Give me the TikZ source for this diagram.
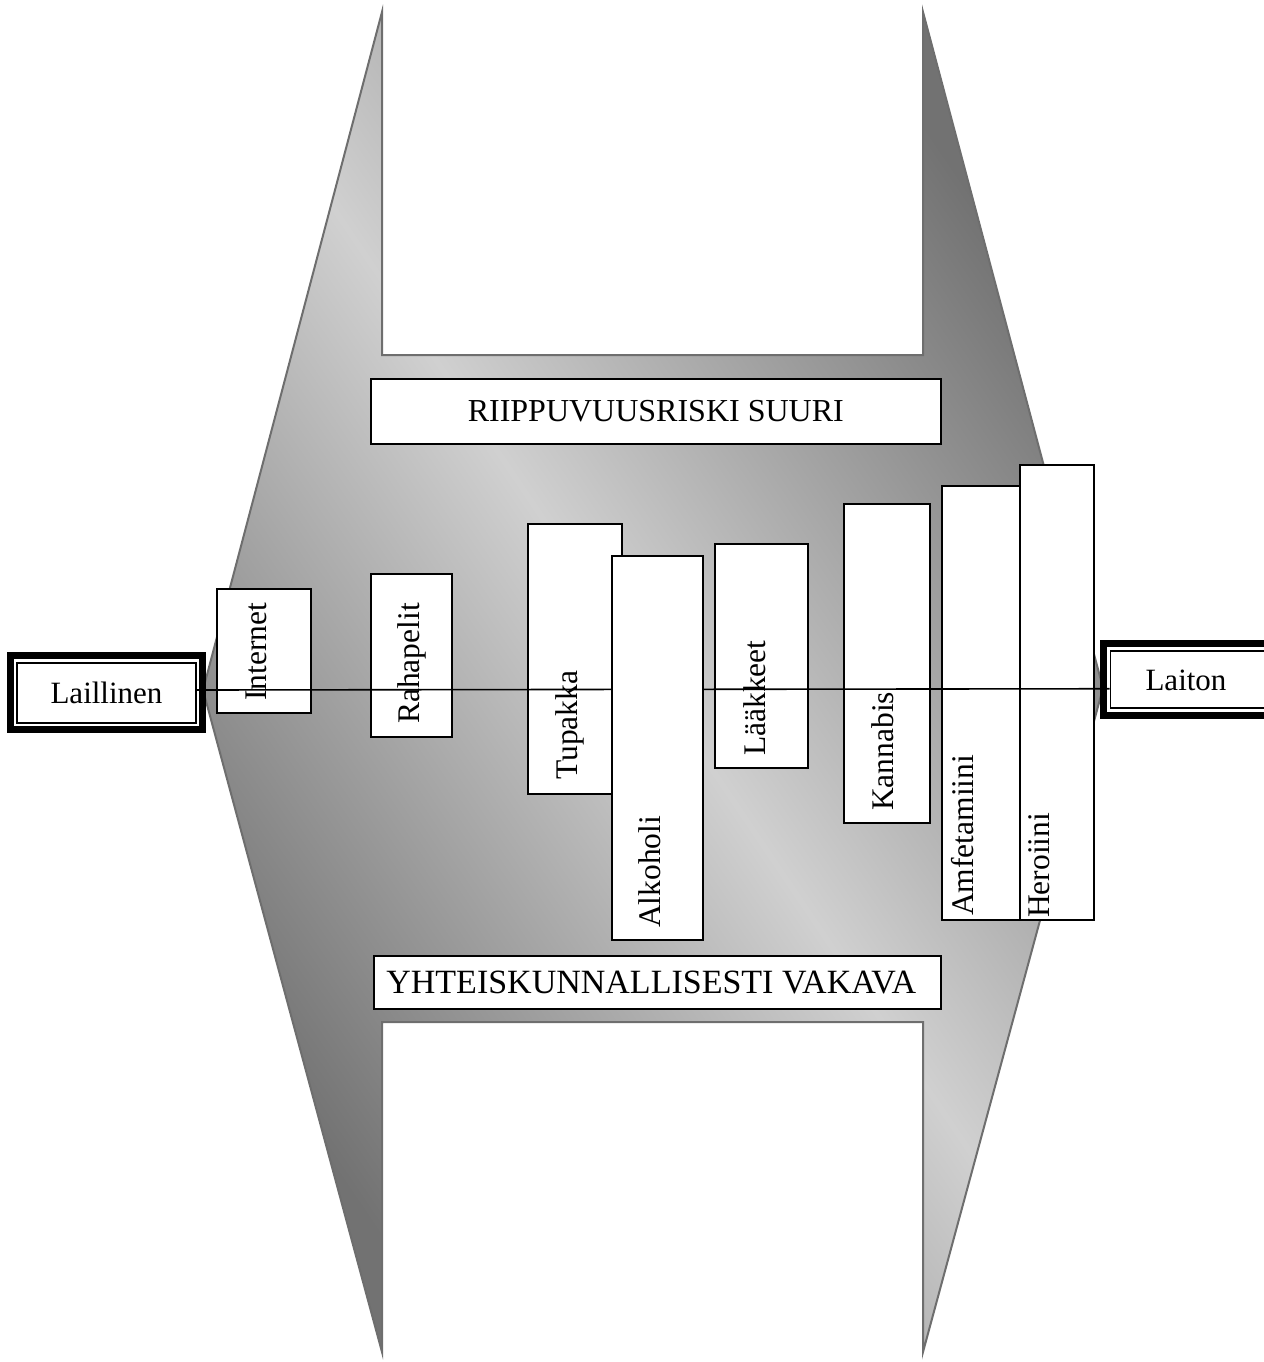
\documentclass[tikz,border=0pt]{standalone}
\usepackage{fontspec}
\setmainfont{Liberation Serif}
\definecolor{shdark}{RGB}{114,114,114}
\definecolor{shlight}{RGB}{208,208,208}
\definecolor{edgegray}{RGB}{110,110,110}
\begin{document}
\begin{tikzpicture}[x=1pt,y=-1pt,
  box/.style={draw=black, line width=1.6pt, fill=white, inner sep=0pt, anchor=north west},
  lbl/.style={rotate=90, anchor=base west, inner sep=0pt, font=\fontsize{31.5}{31.5}\selectfont},
  banner/.style={draw=black, line width=1.6pt, fill=white, inner sep=0pt, anchor=north west},
  endbox/.style={draw=black, line width=1.5pt, fill=white, inner sep=0pt, font=\fontsize{31}{31}\selectfont},
  thickframe/.style={line width=7pt},
  link/.style={draw=black, line width=1.6pt}
]
\useasboundingbox (0,0) rectangle (1263,1362);

% big shaded shape with notches
\shadedraw[draw=edgegray, line width=2pt, top color=shdark, bottom color=shdark, middle color=shlight, shading angle=-56]
  (382,12) -- (382,355) -- (923,355) -- (923,12) -- (1103,688) -- (923,1352)
  -- (923,1022) -- (382,1022) -- (382,1352) -- (203,690) -- cycle;

% end boxes
\node[endbox, minimum width=179pt, minimum height=60pt] (lail) at (106.5,693) {Laillinen};
\draw[thickframe] ([xshift=-5.5pt,yshift=6.5pt]lail.north west) rectangle ([xshift=5.5pt,yshift=-5.5pt]lail.south east);

\node[endbox, minimum width=200pt, minimum height=57pt, anchor=north west] (lait) at (1109.5,650) {};
\draw[thickframe] ([xshift=-6pt,yshift=6.5pt]lait.north west) rectangle ([xshift=6pt,yshift=-6.5pt]lait.south east);
\node[inner sep=0pt, anchor=base, font=\fontsize{31}{31}\selectfont] (laittxt) at (1186,690) {Laiton};

% banners
\node[banner, minimum width=570pt, minimum height=65pt, font=\fontsize{32}{32}\selectfont] (riski) at (370,378) {RIIPPUVUUSRISKI SUURI};
\node[banner, minimum width=567pt, minimum height=53pt, font=\fontsize{34}{34}\selectfont] (vakava) at (373,955) {\hspace*{-12pt}YHTEISKUNNALLISESTI VAKAVA};

% vertical boxes
\node[box, minimum width=94pt, minimum height=124pt] (internet) at (216,588) {};
\node[lbl] (tinternet) at (266,701) {Internet};
\node[box, minimum width=81pt, minimum height=163pt] (raha) at (370,573) {};
\node[lbl] (traha) at (419,724) {Rahapelit};
\node[box, minimum width=94pt, minimum height=270pt] (tupakka) at (527,523) {};
\node[lbl] (ttupakka) at (577,780) {Tupakka};
\node[box, minimum width=93pt, minimum height=224pt] (laak) at (714,543) {};
\node[lbl] (tlaak) at (765,756) {Lääkkeet};
\node[box, minimum width=86pt, minimum height=319pt] (kann) at (843,503) {};
\node[lbl] (tkann) at (893,811) {Kannabis};
\node[box, minimum width=78pt, minimum height=434pt] (amf) at (941,485) {};
\node[lbl] (tamf) at (973,916) {Amfetamiini};
\node[box, minimum width=74pt, minimum height=455pt] (her) at (1019,464) {};
\node[lbl] (ther) at (1049,918) {Heroiini};

% connector
\draw[link] ([yshift=3pt]lail.east) -- ([yshift=-9.5pt]lait.west);

% alkoholi on top of the line
\node[box, minimum width=91pt, minimum height=384pt] (alk) at (611,555) {};
\node[lbl] (talk) at (660,928) {Alkoholi};
\end{tikzpicture}
\end{document}
